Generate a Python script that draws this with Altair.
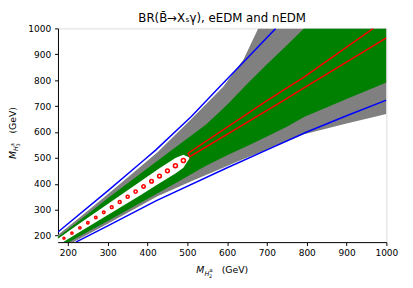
import altair as alt
import pandas as pd

TITLE = "BR(B\u0304\u2192X\u209b\u03b3), eEDM and nEDM"
TICKS = [200, 300, 400, 500, 600, 700, 800, 900, 1000]
DOMAIN = [175, 1000]

GRAY_X = [175, 220, 300, 425, 510, 590, 641, 678, 700, 793, 900, 1000]
GRAY_HI = [203, 258, 360, 522, 650, 775, 880, 1000, 1000, 1000, 1000, 1000]
GRAY_LO = [143, 180, 246, 352, 410, 462, 496, 518, 531, 591, 633, 670]

GREEN_X = [175, 220, 300, 430, 547, 600, 653, 700, 750, 793, 900, 1000]
GREEN_HI = [195, 248, 344, 495, 629, 705, 790, 862, 935, 1000, 1000, 1000]
GREEN_LO = [150, 190, 256, 367, 470, 510, 548, 583, 620, 658, 727, 791]

WHITE_X = [175, 220, 300, 380, 430, 470, 490, 505]
WHITE_HI = [188, 237, 322, 407, 460, 500, 512, 502]
WHITE_LO = [163, 205, 280, 354, 402, 440, 462, 498]

BLUE_UP_X = [175, 300, 392, 421, 510, 571, 640, 722]
BLUE_UP_Y = [214, 373, 493, 531, 660, 758, 868, 1000]
BLUE_LO_X = [220, 300, 421, 600, 700, 800, 900, 1000]
BLUE_LO_Y = [175, 238, 334, 462, 531, 600, 663, 723]

RED_X = [967, 793, 699, 502, 506, 740, 793, 1000]
RED_Y = [1000, 812, 720, 518, 505, 720, 770, 963]

DOT_X = [190, 210, 230, 250, 270, 290, 310, 330, 350, 370, 390, 410, 430, 450, 470, 490]
DOT_Y = [190, 210, 230, 250, 270, 290, 310, 330, 350, 370, 390, 410, 430, 450, 470, 490]
DOT_S = [4, 5, 5.5, 6, 6.5, 7, 8, 9, 10, 11, 12, 13, 14, 15, 16, 17]

FONT = "DejaVu Sans"

xs = alt.Scale(domain=DOMAIN, nice=False, zero=False)
ys = alt.Scale(domain=DOMAIN, nice=False, zero=False)
xax = alt.Axis(values=TICKS, title="", grid=False, tickSize=3.5, labelPadding=3, format="d",
               labelFontSize=9.2, labelFont=FONT, labelColor="black",
               tickColor="black", domainColor="black", labelFlush=False)
yax = alt.Axis(values=TICKS, title="", grid=False, tickSize=3.5, labelPadding=4, format="d",
               labelFontSize=9.2, labelFont=FONT, labelColor="black",
               tickColor="black", domainColor="black", labelFlush=False)


def band(xv, lo, hi, color):
    df = pd.DataFrame({"x": xv, "lo": lo, "hi": hi})
    return alt.Chart(df).mark_area(color=color, clip=True, opacity=1).encode(
        x=alt.X("x:Q", scale=xs, axis=xax),
        y=alt.Y("lo:Q", scale=ys, axis=yax),
        y2="hi:Q",
    )


def line(xv, yv, color, width=1.5):
    df = pd.DataFrame({"x": xv, "y": yv, "o": list(range(len(xv)))})
    return alt.Chart(df).mark_line(color=color, strokeWidth=width, clip=True).encode(
        x=alt.X("x:Q", scale=xs, axis=xax),
        y=alt.Y("y:Q", scale=ys, axis=yax),
        order="o:Q",
    )


gray = band(GRAY_X, GRAY_LO, GRAY_HI, "#808080")
green = band(GREEN_X, GREEN_LO, GREEN_HI, "#008000")
white = band(WHITE_X, WHITE_LO, WHITE_HI, "#ffffff")
blue_up = line(BLUE_UP_X, BLUE_UP_Y, "#0000ff")
blue_lo = line(BLUE_LO_X, BLUE_LO_Y, "#0000ff")
red = line(RED_X, RED_Y, "#ff0000")

dots = alt.Chart(pd.DataFrame({"x": DOT_X, "y": DOT_Y, "s": DOT_S})).mark_point(
    shape="circle", filled=False, color="#ff0000", strokeWidth=1.6, clip=True, opacity=1
).encode(
    x=alt.X("x:Q", scale=xs, axis=xax),
    y=alt.Y("y:Q", scale=ys, axis=yax),
    size=alt.Size("s:Q", scale=None, legend=None),
)


def txt(t, x, y, size, italic=False, angle=0, align="left"):
    kw = dict(font=FONT, fontSize=size, align=align, baseline="alphabetic", color="black")
    if italic:
        kw["fontStyle"] = "italic"
    if angle:
        kw["angle"] = angle
    return alt.Chart(pd.DataFrame({"t": [t]})).mark_text(**kw).encode(
        text="t:N", x=alt.value(x), y=alt.value(y)
    )


labels = [
    # title
    txt(TITLE, 167.5, -6.5, 12, align="center"),
    # x axis title
    txt("M", 141, 250, 9.5, True),
    txt("H", 149.5, 252.5, 6.5, True),
    txt("\u00b1", 154, 248.5, 5),
    txt("2", 154, 254.5, 5),
    txt("(GeV)", 167, 250, 9.5),
    # y axis title
    txt("M", -43, 133.3, 9.5, True, 270),
    txt("H", -40.5, 125, 6.5, True, 270),
    txt("\u00b1", -44.5, 120.5, 5, False, 270),
    txt("3", -38.5, 120.5, 5, False, 270),
    txt("(GeV)", -43, 107.3, 9.5, False, 270),
]

chart = alt.layer(gray, green, white, blue_up, blue_lo, red, dots, *labels).properties(
    width=335,
    height=218,
    autosize=alt.AutoSizeParams(type="none"),
    padding={"left": 51, "top": 18, "right": 19, "bottom": 44},
).configure_view(stroke="black", strokeWidth=1).configure(background="white")

chart.save("out.html", embed_options={"renderer": "svg", "actions": False})
